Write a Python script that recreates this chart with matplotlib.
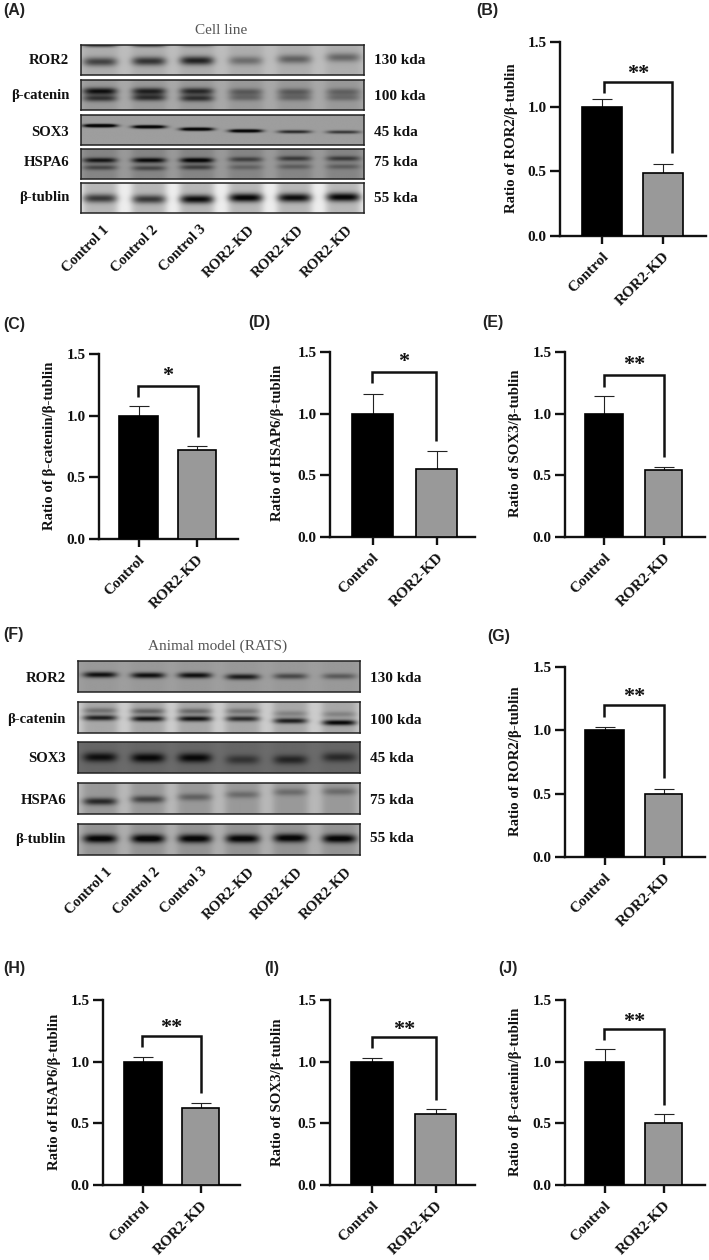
import numpy as np
import matplotlib
matplotlib.use('Agg')
import matplotlib.pyplot as plt

W, H = 709, 1260
SERIF = 'Liberation Serif'
SANS = 'Liberation Sans'

# bar panels
panel_names = ['B', 'C', 'D', 'E', 'G', 'H', 'I', 'J']
ratio_names = ['ROR2', 'β-catenin', 'HSAP6', 'SOX3', 'ROR2', 'HSAP6', 'SOX3', 'β-catenin']
groups = ['Control', 'ROR2-KD']
control_mean = [1.0, 1.0, 1.0, 1.0, 1.0, 1.0, 1.0, 1.0]
control_top = [1.06, 1.075, 1.16, 1.14, 1.03, 1.04, 1.03, 1.10]
kd_mean = [0.485, 0.72, 0.555, 0.545, 0.50, 0.625, 0.575, 0.505]
kd_top = [0.556, 0.755, 0.695, 0.565, 0.54, 0.665, 0.615, 0.575]
stars = ['**', '*', '*', '**', '**', '**', '**', '**']
yticks = [0.0, 0.5, 1.0, 1.5]

# layout in pixels: axis x, right end, y of 0, y of 1.5
axis_x = [560, 99, 330, 565, 565, 103, 330, 565]
axis_r = [706, 238, 475, 705, 705, 240, 475, 705]
axis_y0 = [236, 539, 537, 537, 857, 1185, 1185, 1185]
axis_y1 = [42, 354, 352, 352, 667, 1000, 1000, 1000]
bar1 = [(582, 622), (119, 158), (352, 393), (585, 623), (585, 624), (124, 162), (351, 393), (585, 624)]
bar2 = [(643, 683), (178, 216), (416, 457), (645, 682), (645, 682), (182, 219), (415, 456), (645, 682)]
# bracket: left x, right x, top y, left end y, right end y, star y
brackets = [(604, 672, 82, 93, 153, 70), (138, 198, 386, 397, 437, 372), (372, 436, 372, 383, 441, 358),
            (604, 664, 375, 387, 457, 361), (604, 664, 705, 717, 778, 693), (142, 201, 1036, 1047, 1093, 1024),
            (372, 436, 1037, 1048, 1100, 1026), (604, 664, 1029, 1040, 1105, 1018)]
ylabel_pos = [(512, 138), (50, 446), (277, 443), (516, 443), (516, 761), (55, 1092), (277, 1092), (516, 1092)]

letters = ['(A)', '(B)', '(C)', '(D)', '(E)', '(F)', '(G)', '(H)', '(I)', '(J)']
letter_pos = [(3, 11), (476, 11), (3, 324), (248, 323), (482, 323), (3, 635), (487, 636), (3, 968), (264, 968), (498, 968)]

# blots
proteins = ['ROR2', 'β-catenin', 'SOX3', 'HSPA6', 'β-tublin']
sizes = ['130 kda', '100 kda', '45 kda', '75 kda', '55 kda']
lanes = ['Control 1', 'Control 2', 'Control 3', 'ROR2-KD', 'ROR2-KD', 'ROR2-KD']

a_centers = [100, 149, 197, 246, 295, 344]
a_rows = [(45, 75), (80, 110), (115, 145), (149, 179), (183, 213)]
a_label_y = [60, 96, 132, 163, 198]
a_bg = [(0.68, 0.74), (0.60, 0.66), (0.62, 0.62), (0.52, 0.60), (0.72, 0.93)]
a_bands = [
    [([.57, .55, .53, .53, .48, .42], [.42, .48, .55, .25, .3, .28], 4.5),
     ([.0, .0, .0, .0, .0, .0], [.45, .4, .2, .0, .0, .0], 2.0)],
    [([.38, .38, .38, .40, .40, .40], [.55, .48, .45, .25, .25, .22], 3.6),
     ([.62, .60, .62, .60, .60, .60], [.4, .42, .42, .2, .2, .18], 3.4)],
    [([.36, .40, .48, .54, .57, .58], [.88, .8, .8, .78, .48, .42], 1.7)],
    [([.38, .38, .38, .35, .32, .32], [.45, .5, .55, .28, .3, .3], 2.6),
     ([.63, .65, .62, .62, .60, .60], [.25, .25, .28, .14, .16, .16], 2.6)],
    [([.52, .55, .55, .50, .50, .48], [.5, .5, .68, .72, .68, .72], 4.4)],
]

f_centers = [100, 148, 195, 243, 291, 340]
f_rows = [(661, 692), (702, 733), (742, 773), (783, 814), (824, 855)]
f_label_y = [679, 720, 759, 800, 839]
f_bg = [(0.60, 0.62), (0.66, 0.80), (0.40, 0.42), (0.60, 0.72), (0.58, 0.68)]
f_bands = [
    [([.45, .47, .47, .52, .50, .50], [.55, .55, .55, .5, .32, .25], 3.0)],
    [([.28, .30, .30, .30, .38, .40], [.22, .28, .25, .2, .15, .15], 3.0),
     ([.52, .55, .55, .55, .62, .68], [.55, .6, .6, .5, .55, .65], 2.8)],
    [([.50, .52, .52, .58, .58, .50], [.35, .38, .38, .2, .26, .24], 4.8)],
    [([.62, .55, .48, .40, .32, .30], [.45, .35, .22, .18, .18, .18], 3.6)],
    [([.48, .48, .48, .48, .46, .48], [.6, .62, .6, .6, .6, .6], 4.4)],
]


def px(x, y):
    return x / W, 1 - y / H


def draw_blot(fig, x0, x1, rows, centers, bgs, bands):
    for (y0, y1), (bg, gap), row_bands in zip(rows, bgs, bands):
        ax = fig.add_axes([x0 / W, 1 - y1 / H, (x1 - x0) / W, (y1 - y0) / H])
        xx, yy = np.meshgrid(np.arange(x0, x1 + 1, 0.5), np.arange(y0, y1 + 1, 0.5))
        img = np.full(xx.shape, float(gap))
        for c in centers:
            img -= (gap - bg) * np.exp(-((xx - c) / 18.0) ** 6)
        for ys, strength, thick in row_bands:
            for c, yf, s in zip(centers, ys, strength):
                yc = y0 + yf * (y1 - y0)
                img -= s * np.exp(-((xx - c) / 17.0) ** 4) * np.exp(-((yy - yc) / thick) ** 2)
        ax.imshow(np.clip(img, 0.03, 1), cmap='gray', vmin=0, vmax=1, aspect='auto',
                  extent=[x0, x1, y1, y0], interpolation='bilinear')
        ax.set_xticks([])
        ax.set_yticks([])
        for s in ax.spines.values():
            s.set_linewidth(1.1)
            s.set_color('#222222')


def blot_labels(fig, label_y, left_x, right_x, centers, tick_y, shift):
    for name, size, y in zip(proteins, sizes, label_y):
        x, yy = px(left_x, y)
        fig.text(x, yy, name, family=SERIF, weight='bold', fontsize=10.6, ha='right', va='center', color='#111111')
        x, yy = px(right_x, y)
        fig.text(x, yy, size, family=SERIF, weight='bold', fontsize=11, ha='left', va='center', color='#111111')
    for lane, c in zip(lanes, centers):
        x, yy = px(c + shift, tick_y)
        fig.text(x, yy, lane, family=SERIF, weight='bold', fontsize=10.6, rotation=45, ha='right', va='top',
                 rotation_mode='anchor', color='#111111')


fig = plt.figure(figsize=(W / 100, H / 100), dpi=100)

draw_blot(fig, 81, 364, a_rows, a_centers, a_bg, a_bands)
draw_blot(fig, 78, 360, f_rows, f_centers, f_bg, f_bands)
blot_labels(fig, a_label_y, 69, 374, a_centers, 223, 2)
blot_labels(fig, f_label_y, 66, 370, f_centers, 865, 5)

x, y = px(221, 30)
fig.text(x, y, 'Cell line', family=SERIF, fontsize=11, ha='center', va='center', color='#555555')
x, y = px(218, 646)
fig.text(x, y, 'Animal model (RATS)', family=SERIF, fontsize=11, ha='center', va='center', color='#555555')

for text, pos in zip(letters, letter_pos):
    x, y = px(*pos)
    fig.text(x, y, text, family=SANS, weight='bold', fontsize=11.5, ha='left', va='center', color='#222222')

for i in range(len(panel_names)):
    x0, x1, y0, y1 = axis_x[i], axis_r[i], axis_y0[i], axis_y1[i]
    ax = fig.add_axes([x0 / W, 1 - y0 / H, (x1 - x0) / W, (y0 - y1) / H])
    c0 = sum(bar1[i]) / 2
    c1 = sum(bar2[i]) / 2
    unit = c1 - c0
    ax.set_xlim((x0 - c0) / unit, (x1 - c0) / unit)
    ax.set_ylim(0, 1.5)
    means = [control_mean[i], kd_mean[i]]
    tops = [control_top[i], kd_top[i]]
    widths = [(bar1[i][1] - bar1[i][0]) / unit, (bar2[i][1] - bar2[i][0]) / unit]
    ax.bar([0, 1], means, width=widths, color=['black', '#999999'], edgecolor='black', linewidth=1.2, zorder=3)
    ax.errorbar([0, 1], means, yerr=[[0, 0], np.array(tops) - np.array(means)], fmt='none', ecolor='#222222',
                elinewidth=0.8, capsize=7.5, capthick=0.8, zorder=2)

    # significance bracket
    lx, rx, top, le, re, sy = brackets[i]
    to_x = lambda p: (p - c0) / unit
    to_y = lambda p: (y0 - p) / (y0 - y1) * 1.5
    ax.plot([to_x(lx), to_x(lx), to_x(rx), to_x(rx)], [to_y(le), to_y(top), to_y(top), to_y(re)],
            color='#111111', lw=1.8, solid_joinstyle='miter', solid_capstyle='butt', clip_on=False)
    ax.text(to_x((lx + rx) / 2), to_y(sy + 4), stars[i], family=SERIF, weight='bold', fontsize=16,
            ha='center', va='center', color='#111111', clip_on=False)

    for s in ['top', 'right']:
        ax.spines[s].set_visible(False)
    for s in ['left', 'bottom']:
        ax.spines[s].set_linewidth(1.7)
        ax.spines[s].set_color('#111111')
    ax.set_yticks(yticks)
    ax.set_yticklabels(['%.1f' % t for t in yticks], family=SERIF, weight='bold', fontsize=11, color='#111111')
    ax.set_xticks([0, 1])
    ax.set_xticklabels(groups, family=SERIF, weight='bold', fontsize=11, rotation=45, ha='right',
                       rotation_mode='anchor', color='#111111')
    ax.tick_params(axis='y', length=7.5, width=1.7, pad=2, color='#111111')
    ax.tick_params(axis='x', length=6, width=1.7, pad=4, color='#111111')
    ax.patch.set_alpha(0)

    x, y = px(*ylabel_pos[i])
    fig.text(x, y, 'Ratio of %s/β-tublin' % ratio_names[i], family=SERIF, weight='bold', fontsize=10.7,
             rotation=90, ha='center', va='center', color='#111111')

fig.savefig('out.png', dpi=100)
